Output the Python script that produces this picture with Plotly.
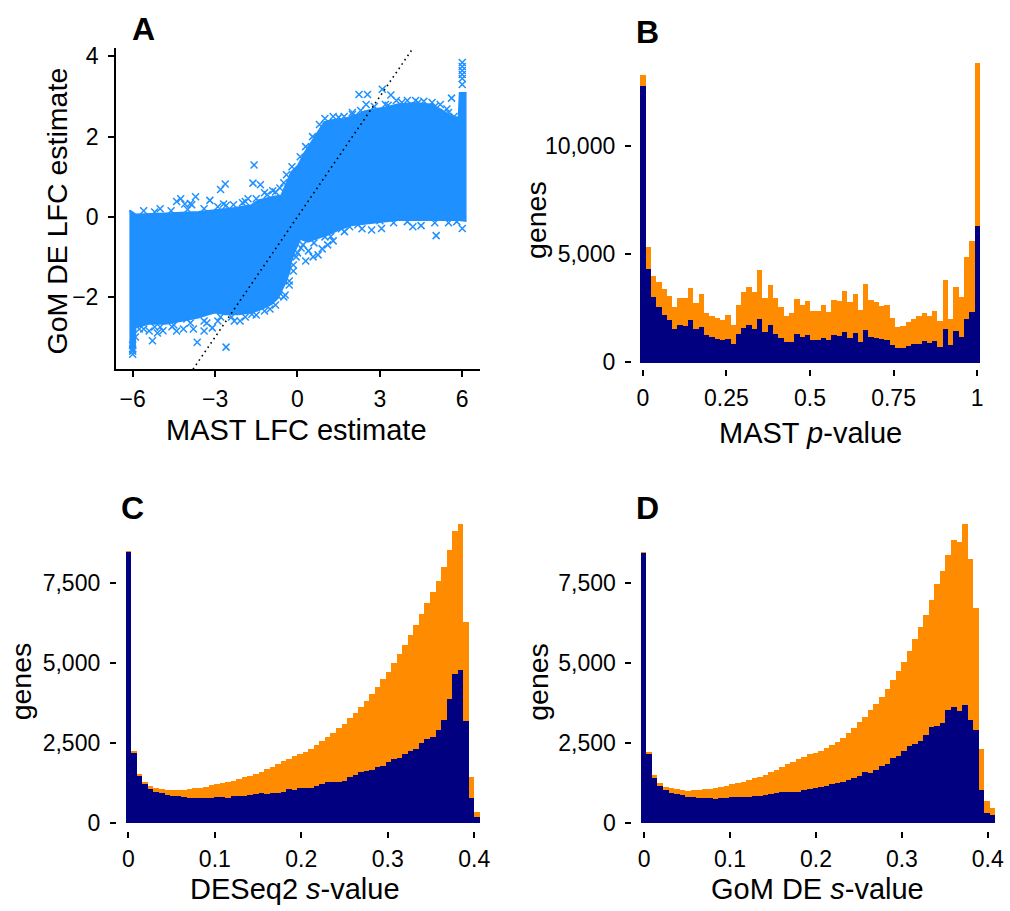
import numpy as np
import plotly.graph_objects as go

W, H = 1010, 911
FONT = "Liberation Sans, Arial, Helvetica, sans-serif"

# ---------------- Panel A : MAST vs GoM DE LFC (dense core outline + scattered points) -------------
a_core_x = [-6.12, -5.90, -4.81, -3.61, -2.40, -1.67, -1.43, -0.95, -0.59, -0.35, -0.23, 0.02,
            0.26, 0.50, 0.74, 0.98, 1.23, 1.71, 2.19, 2.43, 2.79, 3.16, 3.64, 4.24, 4.84, 5.21,
            5.57, 5.87, 5.91, 6.12, 6.12, 5.87, 3.64, 2.43, 1.95, 1.47, 1.23, 0.74, 0.38, 0.10,
            -0.10, -0.23, -0.29, -0.41, -0.59, -0.71, -0.95, -1.31, -1.67, -2.16, -2.64, -3.00,
            -3.24, -3.61, -4.21, -4.81, -5.42, -5.90, -5.92, -6.12]
a_core_y = [0.16, 0.06, 0.08, 0.12, 0.21, 0.29, 0.41, 0.49, 0.53, 0.95, 1.11, 1.28,
            1.60, 1.85, 2.10, 2.36, 2.41, 2.44, 2.55, 2.63, 2.68, 2.72, 2.80, 2.84, 2.80, 2.68,
            2.51, 2.47, 3.09, 3.09, -0.10, -0.08, -0.08, -0.16, -0.21, -0.33, -0.41, -0.53, -0.62, -0.55,
            -0.86, -1.11, -1.36, -1.60, -1.85, -2.02, -2.18, -2.30, -2.39, -2.43, -2.43, -2.39,
            -2.43, -2.51, -2.59, -2.67, -2.67, -2.76, -3.25, -3.25]

a_pts_x = [-1.58, -1.62, -1.35, -2.63, -2.80, -3.71, -4.25, -3.90, -3.85, -3.19, -2.69, -2.33,
           -0.64, -4.10, -4.40, -5.00, -2.00, -1.80, -1.20, -0.90,
           2.24, 2.55, 3.09, 3.40, 2.50, 5.61, 5.44, 6.00, 6.00, 6.00, 6.00, 6.00, 6.00,
           2.30, 2.00, 1.50, 3.80, 4.30, 4.60, 4.90, 5.20, 3.30,
           6.00, 5.05, 4.20, 4.50, 2.35, 2.70, 3.06, 1.71, 1.21, 1.10, 0.75, 0.57, 0.13,
           0.90, 1.30, 0.40, 1.90, 3.50, 5.50, 0.30,
           -0.70, -1.66, -2.09, -2.60, -3.65, -3.10, -3.79, -4.15, -4.57, -4.90, -5.28, -5.64,
           -5.58, -5.76, -6.00, -4.03, -3.40, -5.34, -5.50, -5.70, -4.57, -6.00, -1.00, -2.30,
           -2.90, -3.30, -4.40, -5.10, -5.40, -5.90, -0.45, -0.30, -0.15, 0.00, -5.20,
           -5.60, -5.20, -4.60, -4.00, -3.40, -2.90, -2.60, -1.90, -1.50, -1.10, -0.80,
           -0.50, -0.40, -0.20, 0.10, 0.30, 0.55, 0.80, 1.00, 1.30, 1.70,
           2.00, 2.80, 3.20, 3.60, 4.00, 4.40, 5.00, 5.50, 5.70,
           5.80, 5.00, 4.00, 3.00, 2.20, 1.60, 1.00, 0.60, 0.20,
           -0.05, -0.15, -0.30, -0.50, -0.80, -1.20, -1.50, -1.90, -2.40, -2.80, -3.40,
           -3.90, -4.50, -5.00, -5.60, -6.00, -6.00]
a_pts_y = [1.29, 0.84, 0.80, 0.82, 0.68, 0.50, 0.45, 0.33, 0.30, 0.41, 0.32, 0.30,
           0.72, 0.32, 0.38, 0.20, 0.35, 0.45, 0.60, 0.65,
           3.05, 3.05, 3.18, 3.04, 2.80, 2.96, 2.69, 3.85, 3.75, 3.65, 3.55, 3.45, 3.30,
           2.65, 2.55, 2.48, 2.85, 2.90, 2.88, 2.85, 2.80, 2.78,
           -0.29, -0.47, -0.25, -0.22, -0.30, -0.33, -0.29, -0.37, -0.49, -0.70, -0.95, -1.00, -0.78,
           -0.80, -0.60, -0.85, -0.25, -0.15, -0.15, -1.10,
           -1.98, -2.43, -2.60, -3.25, -3.13, -2.77, -2.80, -2.80, -2.74, -2.84, -3.09, -2.50,
           -2.23, -2.80, -3.43, -2.55, -2.85, -0.29, -0.70, -0.95, -0.37, -3.35, -2.30, -2.60,
           -2.60, -2.65, -2.85, -2.90, -2.85, -3.00, -1.95, -1.60, -1.20, -0.90, -2.75,
           0.15, 0.12, 0.15, 0.18, 0.20, 0.25, 0.28, 0.38, 0.45, 0.55, 0.62,
           0.85, 1.05, 1.25, 1.50, 1.75, 2.00, 2.30, 2.45, 2.50, 2.50,
           2.60, 2.75, 2.80, 2.90, 2.90, 2.85, 2.75, 2.60, 2.50,
           -0.12, -0.15, -0.12, -0.10, -0.20, -0.30, -0.50, -0.65, -0.70,
           -1.00, -1.35, -1.70, -2.00, -2.20, -2.35, -2.45, -2.50, -2.50, -2.50, -2.60,
           -2.65, -2.70, -2.75, -2.80, -3.30, -3.20]

a_xlim = [-6.61, 6.65]
a_ylim = [-3.802, 4.222]

# ---------------- Histograms (64 bins) ----------------
n_bins = 64
b_max, c_max, d_max = 1.0, 0.403, 0.406

b_total = [13333, 5352, 4021, 3746, 3410, 3089, 2553, 3012, 2980, 3455,
           2752, 3165, 2278, 2141, 2079, 1988, 2217, 1758, 2645, 3287,
           3517, 3257, 4281, 2982, 3593, 2966, 2584, 2171, 2294, 2951,
           2645, 2859, 2400, 2380, 2660, 2324, 2905, 2850, 3318, 2813,
           3180, 2416, 3639, 2874, 2783, 2630, 2650, 2064, 1636, 1682,
           1865, 2003, 2141, 2294, 2171, 2400, 1911, 3823, 2034, 3517,
           3027, 4893, 5627, 13868]
b_navy = [12798, 4312, 3027, 2584, 2217, 1988, 1575, 1758, 1712, 1957,
          1560, 1636, 1269, 1177, 1070, 1024, 1100, 871, 1300, 1590,
          1758, 1575, 2034, 1407, 1758, 1300, 1147, 963, 963, 1300,
          1177, 1269, 1024, 1040, 1147, 1040, 1254, 1230, 1407, 1131,
          1346, 963, 1514, 1162, 1116, 1070, 1050, 810, 657, 657,
          749, 841, 856, 994, 917, 979, 734, 1575, 810, 1437,
          1177, 2034, 2324, 6315]

c_total = [8477, 2230, 1521, 1284, 1151, 1089, 1048, 1028, 1017, 1017,
           1028, 1058, 1079, 1099, 1130, 1171, 1202, 1233, 1284, 1315,
           1367, 1418, 1469, 1531, 1593, 1675, 1747, 1829, 1921, 2004,
           2080, 2150, 2210, 2290, 2415, 2538, 2672, 2795, 2949, 3083,
           3257, 3422, 3596, 3802, 4007, 4233, 4470, 4706, 4983, 5261,
           5549, 5846, 6165, 6504, 6853, 7193, 7552, 7984, 8508, 9093,
           9319, 6268, 1439, 339]
c_navy = [8456, 2189, 1459, 1202, 1048, 976, 914, 853, 822, 822,
          801, 781, 760, 771, 781, 781, 791, 791, 771, 843,
          832, 843, 873, 904, 925, 894, 935, 945, 976, 1048,
          1028, 1079, 1079, 1099, 1161, 1223, 1284, 1284, 1264, 1315,
          1418, 1480, 1572, 1613, 1634, 1726, 1778, 1901, 1993, 2034,
          2147, 2230, 2312, 2497, 2610, 2661, 2898, 3216, 3853, 4624,
          4778, 3165, 771, 185]

d_total = [8456, 2209, 1500, 1254, 1130, 1079, 1048, 1017, 1007, 1017,
           1017, 1048, 1058, 1099, 1130, 1161, 1202, 1243, 1284, 1325,
           1387, 1439, 1500, 1572, 1644, 1726, 1819, 1900, 1980, 2060,
           2130, 2190, 2250, 2320, 2430, 2530, 2651, 2805, 2959, 3134,
           3309, 3514, 3699, 3925, 4161, 4439, 4727, 5024, 5364, 5723,
           6093, 6473, 6936, 7429, 7840, 8354, 8816, 8765, 9319, 8220,
           6710, 2291, 688, 462]
d_navy = [8425, 2137, 1408, 1141, 1017, 935, 904, 853, 812, 812,
          781, 781, 771, 750, 760, 771, 812, 812, 801, 801,
          822, 843, 853, 894, 925, 966, 956, 966, 976, 1010,
          1050, 1090, 1120, 1151, 1202, 1233, 1284, 1336, 1387, 1469,
          1593, 1562, 1644, 1778, 1839, 2024, 2086, 2230, 2384, 2445,
          2548, 2723, 2999, 3031, 3124, 3524, 3596, 3494, 3678, 3216,
          2908, 1017, 308, 257]

ORANGE = "#FF8C00"
NAVY = "#000080"
BLUE = "#1E90FF"

fig = go.Figure()

# Panel A
fig.add_trace(go.Scatter(x=a_core_x, y=a_core_y, mode="lines", fill="toself",
                         fillcolor=BLUE, line=dict(color=BLUE, width=2),
                         xaxis="x", yaxis="y", hoverinfo="skip", showlegend=False))
fig.add_trace(go.Scatter(x=a_pts_x, y=a_pts_y, mode="markers",
                         marker=dict(symbol="x-thin", size=7, line=dict(color=BLUE, width=1.5)),
                         xaxis="x", yaxis="y", showlegend=False))
fig.add_trace(go.Scatter(x=a_ylim, y=a_ylim, mode="lines",
                         line=dict(color="black", width=1.6, dash="1.6px,3.6px"),
                         xaxis="x", yaxis="y", hoverinfo="skip", showlegend=False))


def add_hist(total, navy, vmax, xa, ya):
    centers = np.linspace(0, vmax, n_bins)
    w = vmax / (n_bins - 1)
    fig.add_trace(go.Bar(x=centers, y=total, width=w, marker=dict(color=ORANGE, line=dict(width=0)),
                         xaxis=xa, yaxis=ya, showlegend=False))
    fig.add_trace(go.Bar(x=centers, y=navy, width=w, marker=dict(color=NAVY, line=dict(width=0)),
                         xaxis=xa, yaxis=ya, showlegend=False))


add_hist(b_total, b_navy, b_max, "x2", "y2")
add_hist(c_total, c_navy, c_max, "x3", "y3")
add_hist(d_total, d_navy, d_max, "x4", "y4")


def fx(px):
    return px / W


def fy(py):
    return 1 - py / H


tickfont = dict(family=FONT, size=23, color="black")
common = dict(showgrid=False, zeroline=False, ticks="outside", ticklen=6, tickwidth=1.8,
              tickcolor="black", tickfont=tickfont, fixedrange=True)

top_dom = [fy(369.3), fy(44)]
bot_dom = [fy(836), fy(510)]

fig.update_layout(
    width=W, height=H, margin=dict(l=0, r=0, t=0, b=0), autosize=False,
    paper_bgcolor="white", plot_bgcolor="white", barmode="overlay", bargap=0,
    font=dict(family=FONT, color="black"),
    xaxis=dict(domain=[fx(116.5), fx(482.5)], range=a_xlim, anchor="y",
               tickvals=[-6, -3, 0, 3, 6], showline=True, linecolor="black", linewidth=1.8,
               ticklabelstandoff=2, **common),
    yaxis=dict(domain=top_dom, range=a_ylim, anchor="x",
               tickvals=[-2, 0, 2, 4], showline=True, linecolor="black", linewidth=1.8,
               ticklabelstandoff=5, **common),
    xaxis2=dict(domain=[fx(635), fx(993)], range=[-0.0327, 1.0327], anchor="y2",
                tickvals=[0, 0.25, 0.5, 0.75, 1], ticktext=["0", "0.25", "0.5", "0.75", "1"],
                showline=False, ticklabelstandoff=2, **common),
    yaxis2=dict(domain=top_dom, range=[-335, 14573], anchor="x2",
                tickvals=[0, 5000, 10000], ticktext=["0", "5,000", "10,000"],
                showline=False, ticklabelstandoff=5, **common),
    xaxis3=dict(domain=[fx(117.4), fx(488)], range=[-0.01335, 0.4131], anchor="y3",
                tickvals=[0, 0.1, 0.2, 0.3, 0.4], ticktext=["0", "0.1", "0.2", "0.3", "0.4"],
                showline=False, ticklabelstandoff=2, **common),
    yaxis3=dict(domain=bot_dom, range=[-237, 9812], anchor="x3",
                tickvals=[0, 2500, 5000, 7500], ticktext=["0", "2,500", "5,000", "7,500"],
                showline=False, ticklabelstandoff=5, **common),
    xaxis4=dict(domain=[fx(635.6), fx(1008)], range=[-0.01355, 0.4177], anchor="y4",
                tickvals=[0, 0.1, 0.2, 0.3, 0.4], ticktext=["0", "0.1", "0.2", "0.3", "0.4"],
                showline=False, ticklabelstandoff=2, **common),
    yaxis4=dict(domain=bot_dom, range=[-237, 9812], anchor="x4",
                tickvals=[0, 2500, 5000, 7500], ticktext=["0", "2,500", "5,000", "7,500"],
                showline=False, ticklabelstandoff=5, **common),
)

titles = [
    ("MAST LFC estimate", 298, 431, 0, 29),
    ("GoM DE LFC estimate", 57, 209, -90, 28.5),
    ("MAST <i>p</i>-value", 815, 434, 0, 29),
    ("genes", 538, 218, -90, 28.5),
    ("DESeq2 <i>s</i>-value", 296, 895, 0, 29),
    ("genes", 22, 685, -90, 28.5),
    ("GoM DE <i>s</i>-value", 822, 895, 0, 29),
    ("genes", 541, 685, -90, 28.5),
]
anns = []
for txt, x, y, ang, sz in titles:
    anns.append(dict(text=txt, x=fx(x), y=fy(y), xref="paper", yref="paper",
                     xanchor="center", yanchor="middle", showarrow=False, textangle=ang,
                     font=dict(family=FONT, size=sz, color="black")))
for txt, x, y in [("A", 144, 25), ("B", 651, 28), ("C", 133, 510), ("D", 651, 510)]:
    anns.append(dict(text="<b>%s</b>" % txt, x=fx(x), y=fy(y), xref="paper", yref="paper",
                     xanchor="center", yanchor="middle", showarrow=False,
                     font=dict(family=FONT, size=32, color="black")))
fig.update_layout(annotations=anns)

fig.write_html("out.html")
